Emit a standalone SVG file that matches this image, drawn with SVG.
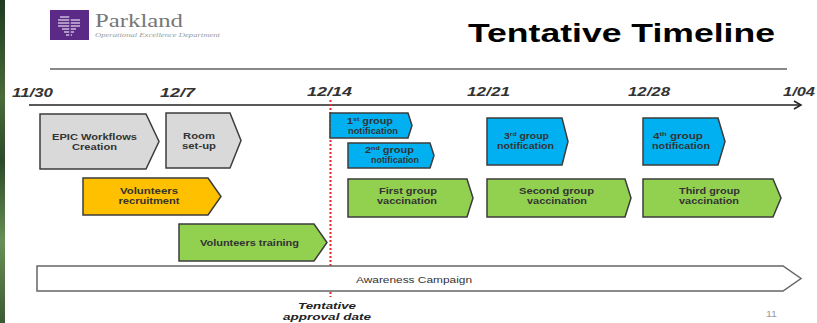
<svg xmlns="http://www.w3.org/2000/svg" width="817" height="323" viewBox="0 0 817 323">
<defs>
<style>
.box{stroke:#3c3c3c;stroke-width:1.5;stroke-linejoin:miter}
.gray{fill:#D9D9D9}
.orange{fill:#FFC000}
.green{fill:#92D050}
.blue{fill:#00B0F0}
.lbl{font-family:"Liberation Sans",Arial,sans-serif;font-size:8.5px;font-weight:bold;fill:#333;text-anchor:middle}
.date{font-family:"Liberation Sans",Arial,sans-serif;font-size:12.5px;font-weight:bold;font-style:italic;fill:#333}
.appr{font-family:"Liberation Sans",Arial,sans-serif;font-size:9.5px;font-weight:bold;font-style:italic;fill:#222;text-anchor:middle}
.sup{font-size:5.5px}
</style>
<linearGradient id="strip" x1="0" y1="0" x2="0" y2="1">
<stop offset="0" stop-color="#1f3a1f"/>
<stop offset="0.3" stop-color="#4a6b3a"/>
<stop offset="0.5" stop-color="#2c4a2a"/>
<stop offset="0.75" stop-color="#6a8f55"/>
<stop offset="1" stop-color="#3b5a33"/>
</linearGradient>
<marker id="arr" markerWidth="10" markerHeight="10" refX="8" refY="5" orient="auto" markerUnits="userSpaceOnUse">
<path d="M1,1 L8,5 L1,9" fill="none" stroke="#222" stroke-width="1.5"/>
</marker>
</defs>
<rect x="0" y="0" width="817" height="323" fill="#fff"/>
<rect x="0" y="0" width="5" height="323" fill="url(#strip)"/>

<g id="logo">
<rect x="50" y="10" width="39" height="30" fill="#5B2A86"/>
<g stroke="#e8e0f0" stroke-width="1.2">
<line x1="60" y1="17" x2="70" y2="17"/>
<line x1="58" y1="20" x2="80" y2="20"/>
<line x1="58" y1="23" x2="80" y2="23"/>
<line x1="58" y1="26" x2="80" y2="26"/>
<line x1="62" y1="29" x2="76" y2="29"/>
<line x1="64" y1="32" x2="74" y2="32"/>
<line x1="66" y1="35" x2="72" y2="35"/>
</g>
<line x1="70" y1="14" x2="70" y2="37" stroke="#5B2A86" stroke-width="1.5"/>
<text x="95" y="27" font-family="Liberation Serif,serif" font-size="18" fill="#777" textLength="88" lengthAdjust="spacingAndGlyphs">Parkland</text>
<text x="95" y="37" font-family="Liberation Serif,serif" font-style="italic" font-size="5.5" fill="#999" textLength="125" lengthAdjust="spacingAndGlyphs">Operational Excellence Department</text>
</g>

<g id="title">
<text x="468" y="42" font-family="Liberation Sans,Arial,sans-serif" font-weight="bold" font-size="26.5" fill="#000" textLength="307" lengthAdjust="spacingAndGlyphs">Tentative Timeline</text>
</g>

<g id="connectors">
<line x1="50" y1="69" x2="787" y2="69" stroke="#888" stroke-width="2"/>
<line x1="29" y1="105" x2="801" y2="105" stroke="#222" stroke-width="1.5" marker-end="url(#arr)"/>
<line x1="330.5" y1="100" x2="330.5" y2="297" stroke="#e8262a" stroke-width="2" stroke-dasharray="2,2"/>
</g>

<g id="dates">
<text class="date" x="12" y="97" textLength="41" lengthAdjust="spacingAndGlyphs">11/30</text>
<text class="date" x="160" y="97" textLength="35" lengthAdjust="spacingAndGlyphs">12/7</text>
<text class="date" x="307" y="96" textLength="45" lengthAdjust="spacingAndGlyphs">12/14</text>
<text class="date" x="467" y="96" textLength="43" lengthAdjust="spacingAndGlyphs">12/21</text>
<text class="date" x="628" y="96" textLength="42" lengthAdjust="spacingAndGlyphs">12/28</text>
<text class="date" x="783" y="96" textLength="32" lengthAdjust="spacingAndGlyphs">1/04</text>
</g>

<g id="awareness">
<polygon points="37,266 783,266 801,278.5 783,291 37,291" fill="#fff" stroke="#666" stroke-width="1.5"/>
<text x="414" y="283" font-family="Liberation Sans,Arial,sans-serif" font-size="9.5" fill="#333" text-anchor="middle" textLength="116" lengthAdjust="spacingAndGlyphs">Awareness Campaign</text>
</g>

<g id="epic">
<polygon class="box gray" points="40,114 146,114 159,141.5 146,169 40,169"/>
<text class="lbl" x="94.5" y="140" textLength="85" lengthAdjust="spacingAndGlyphs">EPIC Workflows</text>
<text class="lbl" x="94.5" y="150" textLength="45" lengthAdjust="spacingAndGlyphs">Creation</text>
</g>

<g id="room">
<polygon class="box gray" points="166,113 230,113 241,140.5 230,168 166,168"/>
<text class="lbl" x="199" y="139" textLength="32" lengthAdjust="spacingAndGlyphs">Room</text>
<text class="lbl" x="199" y="149" textLength="34" lengthAdjust="spacingAndGlyphs">set-up</text>
</g>

<g id="recruitment">
<polygon class="box orange" points="83,178 208,178 221,196.5 208,215 83,215"/>
<text class="lbl" x="149" y="194" textLength="58" lengthAdjust="spacingAndGlyphs">Volunteers</text>
<text class="lbl" x="149" y="204" textLength="61" lengthAdjust="spacingAndGlyphs">recruitment</text>
</g>

<g id="training">
<polygon class="box green" points="179,224 314,224 327,242.5 314,261 179,261"/>
<text class="lbl" x="249.5" y="246" textLength="99" lengthAdjust="spacingAndGlyphs">Volunteers training</text>
</g>

<g id="notif1">
<polygon class="box blue" points="330,113 408,113 412,125.5 408,138 330,138"/>
<text class="lbl" x="370" y="124" textLength="46" lengthAdjust="spacingAndGlyphs">1<tspan class="sup" dy="-3">st</tspan><tspan dy="3"> group</tspan></text>
<text class="lbl" x="373" y="134" textLength="50" lengthAdjust="spacingAndGlyphs">notification</text>
</g>

<g id="notif2">
<polygon class="box blue" points="348,143 430,143 434,155.5 430,168 348,168"/>
<text class="lbl" x="389.5" y="153" textLength="49" lengthAdjust="spacingAndGlyphs">2<tspan class="sup" dy="-3">nd</tspan><tspan dy="3"> group</tspan></text>
<text class="lbl" x="395" y="163" textLength="48" lengthAdjust="spacingAndGlyphs">notification</text>
</g>

<g id="notif3">
<polygon class="box blue" points="487,118 562,118 568,141.5 562,165 487,165"/>
<text class="lbl" x="526.5" y="139" textLength="45" lengthAdjust="spacingAndGlyphs">3<tspan class="sup" dy="-3">rd</tspan><tspan dy="3"> group</tspan></text>
<text class="lbl" x="525.5" y="149" textLength="57" lengthAdjust="spacingAndGlyphs">notification</text>
</g>

<g id="notif4">
<polygon class="box blue" points="643,118 718,118 725,141.5 718,165 643,165"/>
<text class="lbl" x="678" y="139" textLength="50" lengthAdjust="spacingAndGlyphs">4<tspan class="sup" dy="-3">th</tspan><tspan dy="3"> group</tspan></text>
<text class="lbl" x="681" y="149" textLength="58" lengthAdjust="spacingAndGlyphs">notification</text>
</g>

<g id="vacc1">
<polygon class="box green" points="348,179 467,179 473,198 467,217 348,217"/>
<text class="lbl" x="408" y="194" textLength="58" lengthAdjust="spacingAndGlyphs">First group</text>
<text class="lbl" x="407" y="204" textLength="60" lengthAdjust="spacingAndGlyphs">vaccination</text>
</g>

<g id="vacc2">
<polygon class="box green" points="487,179 625,179 631,198 625,217 487,217"/>
<text class="lbl" x="556.5" y="194" textLength="75" lengthAdjust="spacingAndGlyphs">Second group</text>
<text class="lbl" x="557" y="204" textLength="60" lengthAdjust="spacingAndGlyphs">vaccination</text>
</g>

<g id="vacc3">
<polygon class="box green" points="643,179 773,179 781,198 773,217 643,217"/>
<text class="lbl" x="709.5" y="194" textLength="61" lengthAdjust="spacingAndGlyphs">Third group</text>
<text class="lbl" x="709" y="204" textLength="60" lengthAdjust="spacingAndGlyphs">vaccination</text>
</g>

<g id="approval">
<text class="appr" x="327" y="309" textLength="58" lengthAdjust="spacingAndGlyphs">Tentative</text>
<text class="appr" x="327" y="319.5" textLength="88" lengthAdjust="spacingAndGlyphs">approval date</text>
</g>

<text x="766" y="317" font-family="Liberation Sans,Arial,sans-serif" font-size="9" fill="#999" textLength="11" lengthAdjust="spacingAndGlyphs">11</text>
</svg>
